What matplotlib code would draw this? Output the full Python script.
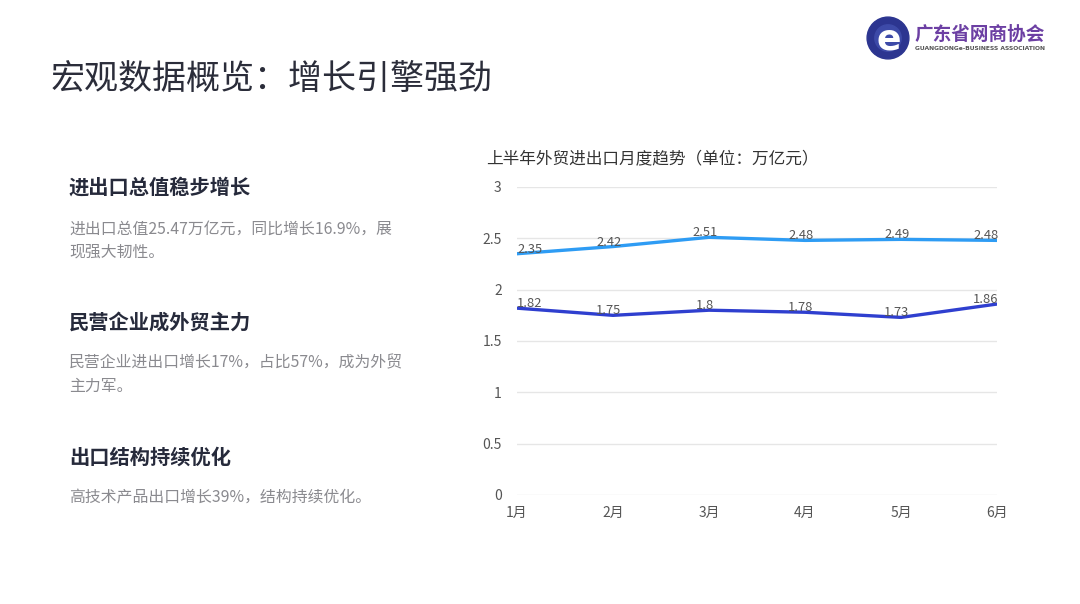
import matplotlib
matplotlib.use("Agg")
import matplotlib.pyplot as plt
from matplotlib.patches import Circle

plt.rcParams['font.family'] = ['Noto Sans CJK SC', 'DejaVu Sans']

months = ["1月", "2月", "3月", "4月", "5月", "6月"]
series_total = [2.35, 2.42, 2.51, 2.48, 2.49, 2.48]
series_private = [1.82, 1.75, 1.8, 1.78, 1.73, 1.86]
y_ticks = [0, 0.5, 1, 1.5, 2, 2.5, 3]
y_tick_labels = ["0", "0.5", "1", "1.5", "2", "2.5", "3"]

title = "宏观数据概览：增长引擎强劲"
chart_title = "上半年外贸进出口月度趋势（单位：万亿元）"
headings = ["进出口总值稳步增长", "民营企业成外贸主力", "出口结构持续优化"]
bodies = [
    ["进出口总值25.47万亿元，同比增长16.9%，展", "现强大韧性。"],
    ["民营企业进出口增长17%，占比57%，成为外贸", "主力军。"],
    ["高技术产品出口增长39%，结构持续优化。"],
]

W, H = 1080, 604
fig = plt.figure(figsize=(W / 100, H / 100), dpi=100)
fig.patch.set_facecolor("white")

def fx(px):
    return px / W

def fy(py):
    return 1 - py / H

# Title
fig.text(fx(51), fy(79), title, fontsize=24.5, color="#2b2d3a", va="center", ha="left")

# Left text blocks
heading_y = [187, 322, 457]
body_y = [[229, 252], [363, 386], [498]]
for h, hy, body, bys in zip(headings, heading_y, bodies, body_y):
    fig.text(fx(69), fy(hy), h, fontsize=14.6, fontweight="bold", color="#262a3b",
             va="center", ha="left")
    for line, by in zip(body, bys):
        fig.text(fx(69), fy(by), line, fontsize=11.4, color="#8a8a8f", va="center", ha="left")

# Chart title
fig.text(fx(486), fy(159), chart_title, fontsize=12, color="#333333", va="center", ha="left")

# Chart axes
ax = fig.add_axes([fx(517), fy(495), fx(997) - fx(517), (495 - 187) / H])
x = list(range(len(months)))
ax.plot(x, series_total, color="#2e9cf4", lw=2.4, solid_capstyle="round", zorder=3)
ax.plot(x, series_private, color="#2f3fcf", lw=2.4, solid_capstyle="round", zorder=3)

def annotate(values):
    n = len(values)
    for i, v in enumerate(values):
        ha = "center"
        dx = -3
        if i == 0:
            ha = "left"
            dx = 0
        elif i == n - 1:
            ha = "right"
            dx = 1
        ax.annotate(f"{v:g}", (i, v), xytext=(dx, -1.5), textcoords="offset points",
                    ha=ha, va="bottom", fontsize=9.3, color="#555555", zorder=4)

annotate(series_total)
annotate(series_private)

ax.set_xlim(0, len(months) - 1)
ax.set_ylim(0, 3)
ax.set_yticks(y_ticks)
ax.set_yticklabels(y_tick_labels)
ax.set_xticks(x)
ax.set_xticklabels(months)
ax.grid(axis="y", color="#e6e6e6", lw=1)
ax.set_axisbelow(True)
for s in ax.spines.values():
    s.set_visible(False)
ax.tick_params(axis="both", length=0, labelsize=10, colors="#555555")
ax.tick_params(axis="y", pad=11)
ax.tick_params(axis="x", pad=8)

# Logo
lax = fig.add_axes([fx(866), fy(60), fx(910) - fx(866), 44 / H])
lax.set_xlim(-1, 1)
lax.set_ylim(-1, 1)
lax.set_aspect("equal")
lax.axis("off")
lax.add_patch(Circle((0, 0), 0.95, color="#2c3590"))
lax.add_patch(Circle((0, 0), 0.6, color="#3d4aa8"))
lax.text(0.02, -0.05, "e", fontsize=26, fontweight="bold", color="white",
         ha="center", va="center", family="DejaVu Sans")

fig.text(fx(914), fy(34), "广东省网商协会", fontsize=13.4, fontweight="bold",
         color="#6c3fa3", va="center", ha="left")
fig.text(fx(915), fy(49), "GUANGDONGe-BUSINESS ASSOCIATION", fontsize=4.3,
         fontweight="bold", color="#555555", va="center", ha="left", family="DejaVu Sans")

fig.savefig("out.png", dpi=100, facecolor="white")
